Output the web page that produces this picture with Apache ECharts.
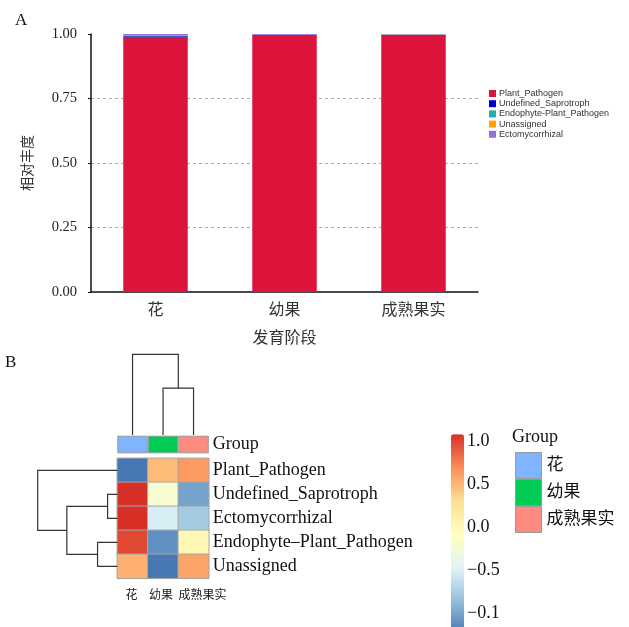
<!DOCTYPE html>
<html>
<head>
<meta charset="utf-8">
<script src="https://cdn.jsdelivr.net/npm/echarts@6/dist/echarts.min.js"></script>
<style>
  html, body { margin: 0; padding: 0; background: #fff; }
  #main { width: 629px; height: 627px; }
</style>
</head>
<body>
<div id="main"></div>
<script>
// panel A: relative abundance of guilds per stage
const stages = ['花', '幼果', '成熟果实']
const guilds = ['Plant_Pathogen', 'Undefined_Saprotroph', 'Endophyte-Plant_Pathogen', 'Unassigned', 'Ectomycorrhizal']
const guildColors = ['#dc143c', '#0000cd', '#20b2aa', '#ffa500', '#9370db']
const plantPathogen = [0.988, 0.996, 0.996]
const undefinedSaprotroph = [0.003, 0.0008, 0.0005]
const endophytePlantPathogen = [0.001, 0.0003, 0.0006]
const unassigned = [0.001, 0.0003, 0.0009]
const ectomycorrhizal = [0.007, 0.0026, 0.002]
const abundance = [plantPathogen, undefinedSaprotroph, endophytePlantPathogen, unassigned, ectomycorrhizal]

// panel B: row z-scores (columns: 花, 幼果, 成熟果实)
const heatCols = ['花', '幼果', '成熟果实']
const heatRows = ['Plant_Pathogen', 'Undefined_Saprotroph', 'Ectomycorrhizal', 'Endophyte\u2013Plant_Pathogen', 'Unassigned']
const zPlantPathogen = [-1.15, 0.50, 0.65]
const zUndefinedSaprotroph = [1.08, -0.15, -0.93]
const zEctomycorrhizal = [1.15, -0.45, -0.70]
const zEndophyte = [0.98, -1.02, 0.04]
const zUnassigned = [0.55, -1.15, 0.60]
const zScores = [zPlantPathogen, zUndefinedSaprotroph, zEctomycorrhizal, zEndophyte, zUnassigned]
const groupColors = ['#80b4ff', '#00cc55', '#ff8a80']
const heatPalette = ['#4575b4', '#91bfdb', '#e0f3f8', '#ffffbf', '#fee090', '#fc8d59', '#d73027']
const barTicks = [-1, -0.5, 0, 0.5, 1]
const barTickLabels = ['\u22120.1', '\u22120.5', '0.0', '0.5', '1.0']

// dendrograms, hclust style: negative = leaf, positive = earlier merge
const colMerge = [[-2, -3], [-1, 1]]
const colHeight = [0.58, 1.0]
const rowMerge = [[-2, -3], [-4, -5], [1, 2], [-1, 3]]
const rowHeight = [0.122, 0.248, 0.634, 1.0]

const serif = '"Liberation Serif", "Noto Sans CJK SC", serif'
const cjk = '"Noto Sans CJK SC", sans-serif'

function buildDendro (merge, heights) {
  const pos = []
  const out = []
  const get = id => id < 0 ? [-id - 0.5, 0] : [pos[id - 1], heights[id - 1]]
  merge.forEach((m, i) => {
    const a = get(m[0])
    const b = get(m[1])
    pos.push((a[0] + b[0]) / 2)
    out.push([a[0], a[1], b[0], b[1], heights[i]])
  })
  return out
}

function dendroItem (horizontal) {
  return (params, api) => {
    const pt = (p, v) => api.coord(horizontal ? [v, p] : [p, v])
    const a = api.value(0); const ah = api.value(1)
    const b = api.value(2); const bh = api.value(3); const h = api.value(4)
    return {
      type: 'polyline',
      shape: { points: [pt(a, ah), pt(a, h), pt(b, h), pt(b, bh)] },
      style: { stroke: '#333', lineWidth: 1.2, fill: null }
    }
  }
}

const heatData = []
zScores.forEach((row, r) => row.forEach((z, c) => heatData.push([c, r, z])))

const HX = 117.3; const HW = 91.5

const chart = echarts.init(document.getElementById('main'))
const hidden = { show: false }

const option = {
  backgroundColor: '#fff',
  animation: false,
  title: [
    { text: 'A', left: 10, top: 7, textStyle: { fontFamily: serif, fontSize: 17, fontWeight: 'normal', color: '#111' } },
    { text: 'B', left: 0, top: 349, textStyle: { fontFamily: serif, fontSize: 17, fontWeight: 'normal', color: '#111' } },
    { text: 'Group', left: 512, top: 428, padding: 0, textStyle: { fontFamily: serif, fontSize: 18, fontWeight: 'normal', color: '#111' } }
  ],
  legend: [
    {
      data: guilds,
      orient: 'vertical',
      left: 489,
      top: 89,
      padding: 0,
      icon: 'rect',
      itemWidth: 7,
      itemHeight: 7,
      itemGap: 1.2,
      selectedMode: false,
      textStyle: { fontFamily: 'Liberation Sans, Arial', fontSize: 9, lineHeight: 9, color: '#333', padding: [0, 0, 0, -2] }
    },
    {
      data: heatCols,
      orient: 'vertical',
      left: 515,
      top: 452,
      padding: 0,
      icon: 'rect',
      itemWidth: 26,
      itemHeight: 26,
      itemGap: 0,
      selectedMode: false,
      itemStyle: { borderColor: '#9a9a9a', borderWidth: 1 },
      textStyle: { fontFamily: serif, fontSize: 17, color: '#111' }
    }
  ],
  grid: [
    { left: 91, top: 34, width: 387, height: 258 },
    { left: HX, top: 458.3, width: HW, height: 120 },
    { left: HX, top: 435.7, width: HW, height: 17.6 },
    { left: HX, top: 354.3, width: HW, height: 80.7 },
    { left: 37.7, top: 458.3, width: 79.6, height: 120 },
    { left: 451, top: 434.3, width: 13, height: 200.5 }
  ],
  visualMap: {
    type: 'continuous',
    seriesIndex: 5,
    min: -1.16,
    max: 1.08,
    calculable: false,
    orient: 'vertical',
    left: 451,
    top: 434.3,
    padding: 0,
    itemWidth: 13,
    itemHeight: 200.5,
    inRange: { color: heatPalette }
  },
  xAxis: [
    {
      gridIndex: 0,
      type: 'category',
      data: stages,
      name: '发育阶段',
      nameLocation: 'middle',
      nameGap: 37,
      nameTextStyle: { fontFamily: cjk, fontSize: 16, color: '#333' },
      axisLine: { lineStyle: { color: '#111', width: 1.5 } },
      axisTick: { length: 3, lineStyle: { color: '#111' } },
      axisLabel: { margin: 9, fontFamily: cjk, fontSize: 16, color: '#333' }
    },
    {
      gridIndex: 1,
      type: 'category',
      data: heatCols,
      axisLine: hidden,
      axisTick: hidden,
      axisLabel: {
        interval: 0,
        margin: 10,
        fontFamily: cjk,
        fontSize: 12,
        color: '#222',
        formatter: (v, i) => '{c' + i + '|' + v + '}',
        rich: { c0: { padding: [0, 2, 0, 0] }, c1: { padding: [0, 4, 0, 0] }, c2: { padding: [0, 0, 0, 18] } }
      }
    },
    { gridIndex: 2, type: 'category', data: heatCols, show: false },
    { gridIndex: 3, type: 'value', min: 0, max: 3, show: false },
    { gridIndex: 4, type: 'value', min: 0, max: 1, inverse: true, show: false },
    { gridIndex: 5, type: 'value', min: 0, max: 1, show: false }
  ],
  yAxis: [
    {
      gridIndex: 0,
      type: 'value',
      min: 0,
      max: 1,
      interval: 0.25,
      name: '相对丰度',
      nameLocation: 'middle',
      nameGap: 57,
      nameTextStyle: { fontFamily: cjk, fontSize: 14, color: '#333' },
      axisLine: { show: true, lineStyle: { color: '#111', width: 1.5 } },
      axisTick: { show: true, length: 3, lineStyle: { color: '#111' } },
      axisLabel: { margin: 14, fontFamily: serif, fontSize: 14.5, color: '#222', formatter: v => v.toFixed(2) },
      splitLine: { show: true, showMinLine: false, showMaxLine: false, lineStyle: { color: '#aaa', type: [3, 3] } }
    },
    {
      gridIndex: 1,
      type: 'category',
      data: heatRows,
      inverse: true,
      position: 'right',
      axisLine: hidden,
      axisTick: hidden,
      axisLabel: { margin: 4, fontFamily: serif, fontSize: 18, color: '#111' }
    },
    { gridIndex: 2, type: 'value', min: 0, max: 1, show: false },
    {
      gridIndex: 2,
      type: 'category',
      data: ['Group'],
      position: 'right',
      axisLine: hidden,
      axisTick: hidden,
      axisLabel: { margin: 4, fontFamily: serif, fontSize: 18, color: '#111' }
    },
    { gridIndex: 3, type: 'value', min: 0, max: 1, show: false },
    { gridIndex: 4, type: 'value', min: 0, max: 5, inverse: true, show: false },
    {
      gridIndex: 5,
      type: 'value',
      min: -1.16,
      max: 1.08,
      position: 'right',
      axisLine: hidden,
      axisTick: hidden,
      splitLine: hidden,
      axisLabel: {
        margin: 3,
        fontFamily: serif,
        fontSize: 18,
        color: '#111',
        customValues: barTicks,
        formatter: v => barTickLabels[barTicks.indexOf(v)]
      }
    }
  ],
  series: [
    ...guilds.map((name, i) => ({
      name: name,
      type: 'bar',
      stack: 'abund',
      xAxisIndex: 0,
      yAxisIndex: 0,
      barWidth: '50%',
      itemStyle: { color: guildColors[i] },
      data: abundance[i]
    })),
    {
      type: 'heatmap',
      xAxisIndex: 1,
      yAxisIndex: 1,
      data: heatData,
      itemStyle: { borderColor: '#a6a6a6', borderWidth: 1 }
    },
    ...heatCols.map((name, i) => ({
      name: name,
      type: 'bar',
      stack: 'group',
      xAxisIndex: 2,
      yAxisIndex: 2,
      barWidth: '100%',
      itemStyle: { color: groupColors[i], borderColor: '#9a9a9a', borderWidth: 1 },
      data: heatCols.map((c, j) => j === i ? 1 : '-')
    })),
    {
      type: 'custom',
      xAxisIndex: 3,
      yAxisIndex: 4,
      renderItem: dendroItem(false),
      data: buildDendro(colMerge, colHeight)
    },
    {
      type: 'custom',
      xAxisIndex: 4,
      yAxisIndex: 5,
      renderItem: dendroItem(true),
      data: buildDendro(rowMerge, rowHeight)
    }
  ]
}

chart.setOption(option)
</script>
</body>
</html>
